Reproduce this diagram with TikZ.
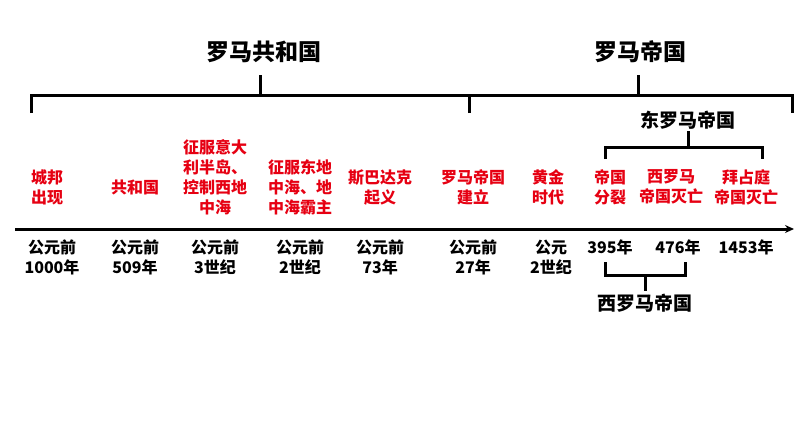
\documentclass[tikz,border=0pt]{standalone}
\usepackage{fontspec}
\setmainfont{Noto Sans CJK SC}
\usetikzlibrary{arrows.meta}
\definecolor{color1}{RGB}{230,0,18}

\begin{document}
\begin{tikzpicture}[x=1pt,y=-1pt]
\tikzset{event/.style={text=color1,inner sep=0pt,align=center,font=\bfseries\fontsize{16}{20}\selectfont},
  when/.style={inner sep=0pt,align=center,anchor=north,font=\bfseries\fontsize{16}{20}\selectfont},
  era/.style={inner sep=0pt,font=\bfseries\fontsize{23}{26}\selectfont},
  subera/.style={inner sep=0pt,font=\bfseries\fontsize{19}{22}\selectfont},
  bar/.style={line width=3pt}}
\useasboundingbox (0,0) rectangle (794,447);

% the two big periods
\node[era] (republic) at (264,52) {罗马共和国};
\node[era] (empire) at (640,52) {罗马帝国};
\coordinate (repstem) at (260,75);
\coordinate (empstem) at (638,75);
\coordinate (left) at (31,113);
\coordinate (mid) at (469,113);
\coordinate (right) at (792,113);
\draw[bar] (left) -- ++(0,-18) -| (right);
\draw[bar] (mid) -- ++(0,-18);
\draw[bar] (repstem) -- ++(0,20);
\draw[bar] (empstem) -- ++(0,20);

% east roman empire
\node[subera] (east) at (688,120) {东罗马帝国};
\coordinate (eleft) at (605,159);
\coordinate (eright) at (762,159);
\draw[bar] (east.south) ++(0,2) coordinate (estem) -- (estem |- 0,147);
\draw[bar] (eleft) -- ++(0,-12) -| (eright);

% time axis
\coordinate (start) at (15,229);
\coordinate (stop) at (794,229);
\draw[bar,-{Stealth[length=9pt,width=8pt]}] (start) -- (stop);

% events
\node[event] (e1) at (47,187) {城邦\\出现};
\node[event] (e2) at (135,187) {共和国};
\node[event] (e3) at (215,177) {征服意大\\利半岛、\\控制西地\\中海};
\node[event] (e4) at (300,187) {征服东地\\中海、地\\中海霸主};
\node[event] (e5) at (380,187) {斯巴达克\\起义};
\node[event] (e6) at (473,187) {罗马帝国\\建立};
\node[event] (e7) at (548,187) {黄金\\时代};
\node[event] (e8) at (610,187) {帝国\\分裂};
\node[event] (e9) at (671,187) {西罗马\\帝国灭亡};
\node[event] (e10) at (746,187) {拜占庭\\帝国灭亡};

% dates
\node[when] (d1) at (52,240) {公元前\\1000年};
\node[when] (d2) at (135,240) {公元前\\509年};
\node[when] (d3) at (215,240) {公元前\\3世纪};
\node[when] (d4) at (300,240) {公元前\\2世纪};
\node[when] (d5) at (380,240) {公元前\\73年};
\node[when] (d6) at (473,240) {公元前\\27年};
\node[when] (d7) at (551,240) {公元\\2世纪};
\node[when] (d8) at (610,240) {395年};
\node[when] (d9) at (678,240) {476年};
\node[when] (d10) at (746,240) {1453年};

% west roman empire
\node[subera] (west) at (645,303) {西罗马帝国};
\coordinate (wleft) at (605,262);
\coordinate (wright) at (685,262);
\draw[bar] (wleft) -- ++(0,13) -| (wright);
\draw[bar] (west.north) ++(0,-3) coordinate (wstem) -- (wstem |- 0,275);
\end{tikzpicture}
\end{document}
